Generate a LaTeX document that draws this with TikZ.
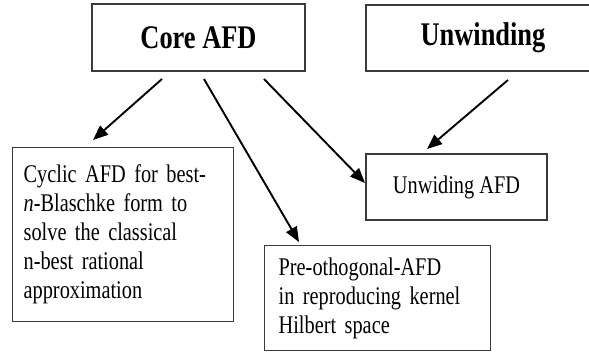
\documentclass[tikz,border=0pt]{standalone}
\usepackage{fontspec}
\setmainfont{Liberation Serif}
% a narrowed serif: set larger, squeezed back to the same width
\newfontfamily\tallserif[FakeStretch=0.8]{Liberation Serif}
\usetikzlibrary{arrows.meta}
\definecolor{edgegray}{HTML}{3A3A3A}
\tikzset{
  boxnode/.style={draw=edgegray, line width=1.3pt, fill=white, inner sep=0pt},
  headbox/.style={boxnode, font=\tallserif\fontsize{33}{36}\selectfont\bfseries},
  leafbox/.style={boxnode, font=\tallserif\fontsize{25.4}{29}\selectfont, align=left, anchor=north west},
  flow/.style={line width=1.9pt, -{Triangle[length=15pt,width=12pt]}}
}
\begin{document}
\begin{tikzpicture}[x=1pt, y=-1pt]
  \useasboundingbox (0,0) rectangle (589,351);
  \begin{scope}
  \clip (0,0) rectangle (589,351);
  % top-level boxes
  \node[headbox, minimum width=213pt, minimum height=67pt] (core) at (198.5,37.5) {Core AFD};
  \node[headbox, minimum width=234pt, minimum height=66pt] (unw) at (483,38) {Unwinding};
  % derived methods
  \node[leafbox, minimum width=211pt, minimum height=174pt, text width=199pt, inner xsep=11pt] (cyc) at (12,147)
    {Cyclic AFD for best-\\ \textit{n}-Blaschke form to\\ solve the classical\\ n-best rational\\ approximation};
  \node[leafbox, minimum width=212pt, minimum height=105pt, text width=198pt, inner xsep=14pt] (pre) at (264,245)
    {Pre-othogonal-AFD\\ in reproducing kernel\\ Hilbert space};
  \node[boxnode, font=\tallserif\fontsize{25.4}{29}\selectfont, minimum width=181pt, minimum height=66pt] (uafd) at (456.5,187) {Unwiding AFD};
  \end{scope}
  % arrow start and end points
  \coordinate (s1) at (162,79);
  \coordinate (s2) at (204,79);
  \coordinate (s3) at (264,79);
  \coordinate (s4) at (508,80);
  \coordinate (e1) at (93,140);
  \coordinate (e2) at (299,242);
  \coordinate (e3) at (365,183);
  \coordinate (e4) at (427,149);
  \draw[flow] (s1) -- (e1);
  \draw[flow] (s2) -- (e2);
  \draw[flow] (s3) -- (e3);
  \draw[flow] (s4) -- (e4);
\end{tikzpicture}
\end{document}
